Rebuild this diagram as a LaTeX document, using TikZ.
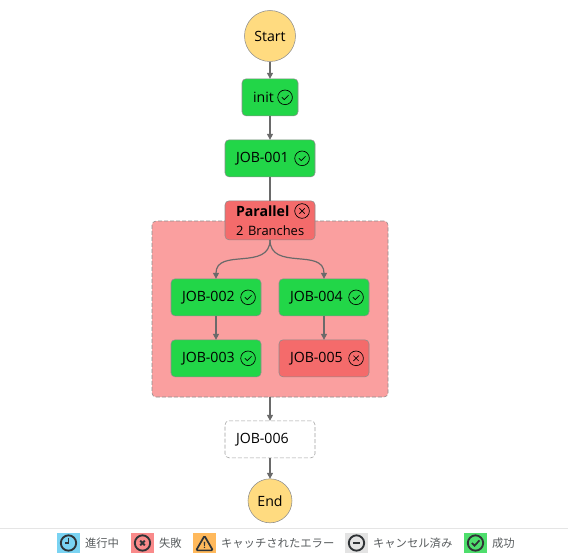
\documentclass[tikz,border=0pt]{standalone}
\usepackage{fontspec}
\setmainfont{Open Sans}
\newfontfamily\jpfont{Noto Sans CJK JP}
\usetikzlibrary{positioning,arrows.meta,shapes.geometric,backgrounds}
\definecolor{okgreen}{HTML}{22D648}
\definecolor{failred}{HTML}{F46B6B}
\definecolor{failzone}{HTML}{FA9F9F}
\definecolor{startyellow}{HTML}{FFDB80}
\definecolor{edgegray}{HTML}{6A6A6A}
\definecolor{rimgray}{HTML}{8C8C8C}
\definecolor{inkgray}{HTML}{2F3336}

\begin{document}
\begin{tikzpicture}[
  x=0.75pt, y=-0.75pt,
  outer sep=0pt,
  txt/.style      = {font=\fontsize{10.6pt}{14.25pt}\selectfont},
  terminal/.style = {circle, draw=rimgray, fill=startyellow, inner sep=0pt, txt},
  jobbox/.style   = {draw=rimgray, rounded corners=3pt, align=left, txt, inner xsep=8.25pt,
                     inner ysep=0pt, minimum height=27.75pt, text width=51pt},
  okbox/.style    = {jobbox, fill=okgreen},
  failbox/.style  = {jobbox, fill=failred},
  openbox/.style  = {jobbox, draw=gray!75, dash pattern=on 3pt off 1.5pt, fill=white},
  zone/.style     = {draw=gray!90, dash pattern=on 3pt off 1.5pt, rounded corners=3pt, fill=failzone},
  arr/.style      = {-{Triangle[length=4.5pt,width=4.5pt]}, line width=0.9pt, edgegray},
  okmark/.style   = {circle, draw=black, line width=0.5pt, minimum size=11pt, inner sep=0pt,
                     path picture={\draw[line width=0.5pt] (-2.4pt,0pt) -- (-0.6pt,-1.7pt) -- (2.6pt,1.6pt);}},
  xmark/.style    = {circle, draw=black, line width=0.5pt, minimum size=11pt, inner sep=0pt,
                     path picture={\draw[line width=0.5pt] (-2pt,-2pt) -- (2pt,2pt) (-2pt,2pt) -- (2pt,-2pt);}},
  swatch/.style   = {minimum width=17.25pt, minimum height=15pt, inner sep=0pt},
  legtxt/.style   = {font=\jpfont\fontsize{8.5pt}{10pt}\selectfont, text=inkgray!80, inner sep=0pt},
  glyph/.style    = {circle, draw=inkgray, line width=1.4pt, minimum size=11.5pt, inner sep=0pt},
]
\useasboundingbox (0,0) rectangle (568,558);

% ---- main column ----
\node[terminal, minimum size=38.25pt] (start) at (270,36) {Start};
\node[okbox, text width=25.5pt, below=13pt of start] (init) {init};
\node[okbox, below=18pt of init] (job1) {JOB-001};
\node[failbox, minimum height=29.25pt, below=18pt of job1] (par)
  {\textbf{Parallel}\\\mbox{\fontsize{9.7pt}{14.25pt}\selectfont 2 Branches}};

% ---- branches ----
\node[okbox, below=29.25pt of par.south, xshift=-40.5pt] (job2) {JOB-002};
\node[okbox, below=29.25pt of par.south, xshift=40.5pt] (job4) {JOB-004};
\node[okbox, below=18pt of job2] (job3) {JOB-003};
\node[failbox, below=18pt of job4] (job5) {JOB-005};

% ---- tail ----
\node[openbox, below=135.75pt of par.south] (job6) {JOB-006};
\node[terminal, minimum size=33pt, below=15.75pt of job6] (end) {End};

% ---- failed region behind the branches ----
\begin{scope}[on background layer]
  \node[zone, minimum width=177pt, minimum height=132pt, inner sep=0pt] (region) at (270,309) {};
\end{scope}

% ---- status marks ----
\node[okmark, left=4.2pt of init.east] (initmark) {};
\node[okmark, left=4.2pt of job1.east] (job1mark) {};
\node[xmark, left=4.2pt of par.east, yshift=7pt] (parmark) {};
\node[okmark, left=4.2pt of job2.east] (job2mark) {};
\node[okmark, left=4.2pt of job3.east] (job3mark) {};
\node[okmark, left=4.2pt of job4.east] (job4mark) {};
\node[xmark, left=4.2pt of job5.east] (job5mark) {};

% ---- edges ----
\draw[arr] (start) -- (init);
\draw[arr] (init)  -- (job1);
\draw[line width=0.9pt, edgegray] (job1) -- (par);
\draw[arr] (par.south) to[out=270,in=90,looseness=1.2] (job2.north);
\draw[arr] (par.south) to[out=270,in=90,looseness=1.2] (job4.north);
\draw[arr] (job2)  -- (job3);
\draw[arr] (job4)  -- (job5);
\draw[arr] (region.south) -- (job6);
\draw[arr] (job6)  -- (end);

% ---- legend ----
\draw[gray!20, line width=0.75pt] (0,528) -- (568,528);
\node[swatch, fill={rgb,255:red,122;green,211;blue,242}] (runsw)    at (68.5,543)  {};
\node[swatch, fill={rgb,255:red,249;green,138;blue,138}] (failsw)   at (142.5,543) {};
\node[swatch, fill={rgb,255:red,255;green,185;blue,92}]  (catchsw)  at (204.5,543) {};
\node[swatch, fill=gray!22]                              (cancelsw) at (356.5,543) {};
\node[swatch, fill={rgb,255:red,78;green,222;blue,108}]  (donesw)   at (475.5,543) {};
\node[legtxt, right=3.75pt of runsw]    {進行中};
\node[legtxt, right=3.75pt of failsw]   {失敗};
\node[legtxt, right=3.75pt of catchsw]  {キャッチされたエラー};
\node[legtxt, right=3.75pt of cancelsw] {キャンセル済み};
\node[legtxt, right=3.75pt of donesw]   {成功};
\node[glyph, path picture={\draw[inkgray, line width=1.2pt] (0pt,3.4pt) -- (0pt,0pt) -- (-3pt,0pt);}] (runglyph) at (runsw) {};
\node[glyph, path picture={\draw[inkgray, line width=1.4pt] (-1.7pt,-1.7pt) -- (1.7pt,1.7pt) (-1.7pt,1.7pt) -- (1.7pt,-1.7pt);}] (failglyph) at (failsw) {};
\node[regular polygon, regular polygon sides=3, draw=inkgray, line width=1.3pt, rounded corners=1pt, inner sep=0pt, minimum size=14.5pt, font=\fontsize{6.5pt}{6.5pt}\bfseries\selectfont, text=inkgray] (catchglyph) at ([yshift=-1.9pt]catchsw) {!};
\node[glyph, path picture={\draw[inkgray, line width=1.4pt] (-2.5pt,0pt) -- (2.5pt,0pt);}] (cancelglyph) at (cancelsw) {};
\node[glyph, path picture={\draw[inkgray, line width=1.3pt] (-2.8pt,0pt) -- (-0.7pt,-2pt) -- (3pt,2pt);}] (doneglyph) at (donesw) {};
\end{tikzpicture}
\end{document}
